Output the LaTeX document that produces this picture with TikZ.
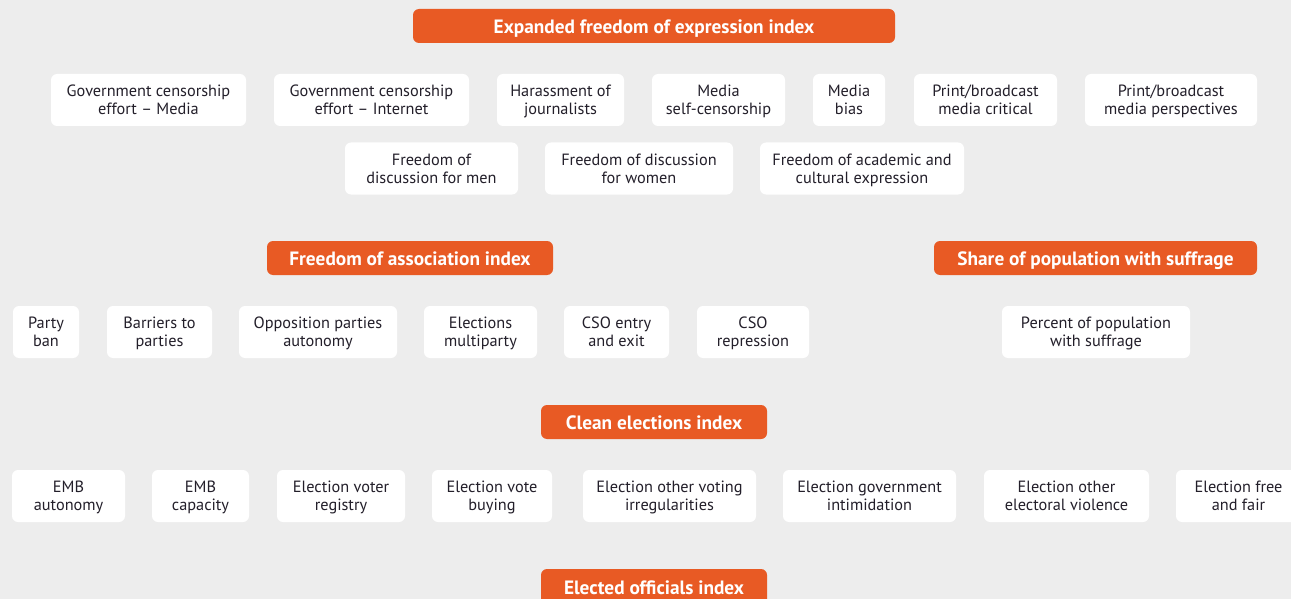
\documentclass[tikz,border=0pt]{standalone}
\usepackage{fontspec}
\setmainfont{PT Sans}
\definecolor{bgc}{HTML}{EDEDED}
\definecolor{orng}{HTML}{E85A24}
\definecolor{txtc}{HTML}{231F2A}
\newcommand\firstst{\rule{0pt}{16.6pt}}
\newcommand\lastst{\rule[-5.4pt]{0pt}{5.4pt}}
\newcommand\headst{\rule[-5.4pt]{0pt}{25.4pt}}
\begin{document}
\begin{tikzpicture}[x=1pt,y=-1pt,
  box/.style={fill=white, rounded corners=6pt, align=center, text=txtc,
    font=\fontsize{16.3}{18}\selectfont, inner sep=0pt, minimum height=52pt},
  head/.style={fill=orng, rounded corners=6pt, align=center, text=white,
    font=\fontsize{19.3}{19}\selectfont\bfseries, inner sep=0pt, minimum height=34pt}]
\useasboundingbox (0,0) rectangle (1291,599);
\clip (0,0) rectangle (1291,599);
\fill[bgc] (0,0) rectangle (1291,599);
% header 1
\node[head, minimum width=482pt] (h1) at (654,26) {\headst Expanded freedom of expression index};
% row 1
\node[box, minimum width=195pt] (gcm) at (148.5,100) {\firstst Government censorship\\effort -- Media\lastst};
\node[box, minimum width=195pt] (gci) at (371.5,100) {\firstst Government censorship\\effort -- Internet\lastst};
\node[box, minimum width=127pt] (har) at (560.5,100) {\firstst Harassment of\\journalists\lastst};
\node[box, minimum width=133pt] (msc) at (718.5,100) {\firstst Media\\self-censorship\lastst};
\node[box, minimum width=72pt] (mb) at (849,100) {\firstst Media\\bias\lastst};
\node[box, minimum width=143pt] (pbc) at (985.5,100) {\firstst Print/broadcast\\media critical\lastst};
\node[box, minimum width=172pt] (pbp) at (1171,100) {\firstst Print/broadcast\\media perspectives\lastst};
% row 2
\node[box, minimum width=173pt] (fdm) at (431.5,168.5) {\firstst Freedom of\\discussion for men\lastst};
\node[box, minimum width=188pt] (fdw) at (639,168.5) {\firstst Freedom of discussion\\for women\lastst};
\node[box, minimum width=204pt] (fac) at (862,168.5) {\firstst Freedom of academic and\\cultural expression\lastst};
% headers 2,3
\node[head, minimum width=286pt] (h2) at (410,258) {\headst Freedom of association index};
\node[head, minimum width=323pt] (h3) at (1095.5,258) {\headst Share of population with suffrage};
% row 3
\node[box, minimum width=66pt] (pb) at (46,332) {\firstst Party\\ban\lastst};
\node[box, minimum width=105pt] (bp) at (159.5,332) {\firstst Barriers to\\parties\lastst};
\node[box, minimum width=158pt] (opa) at (318,332) {\firstst Opposition parties\\autonomy\lastst};
\node[box, minimum width=113pt] (em) at (480.5,332) {\firstst Elections\\multiparty\lastst};
\node[box, minimum width=105pt] (cso) at (616.5,332) {\firstst CSO entry\\and exit\lastst};
\node[box, minimum width=112pt] (csr) at (753,332) {\firstst CSO\\repression\lastst};
\node[box, minimum width=188pt] (pps) at (1096,332) {\firstst Percent of population\\with suffrage\lastst};
% header 4
\node[head, minimum width=226pt] (h4) at (654,422) {\headst Clean elections index};
% row 4
\node[box, minimum width=113pt] (emba) at (68.5,496) {\firstst EMB\\autonomy\lastst};
\node[box, minimum width=97pt] (embc) at (200.5,496) {\firstst EMB\\capacity\lastst};
\node[box, minimum width=128pt] (evr) at (341,496) {\firstst Election voter\\registry\lastst};
\node[box, minimum width=120pt] (evb) at (492,496) {\firstst Election vote\\buying\lastst};
\node[box, minimum width=173pt] (eovi) at (669.5,496) {\firstst Election other voting\\irregularities\lastst};
\node[box, minimum width=173pt] (egi) at (869.5,496) {\firstst Election government\\intimidation\lastst};
\node[box, minimum width=165pt] (eoev) at (1066.5,496) {\firstst Election other\\electoral violence\lastst};
\node[box, minimum width=125pt] (eff) at (1238.5,496) {\firstst Election free\\and fair\lastst};
% header 5
\node[head, minimum width=226pt, minimum height=36pt] (h5) at (654,587) {\headst Elected officials index};
\end{tikzpicture}
\end{document}
